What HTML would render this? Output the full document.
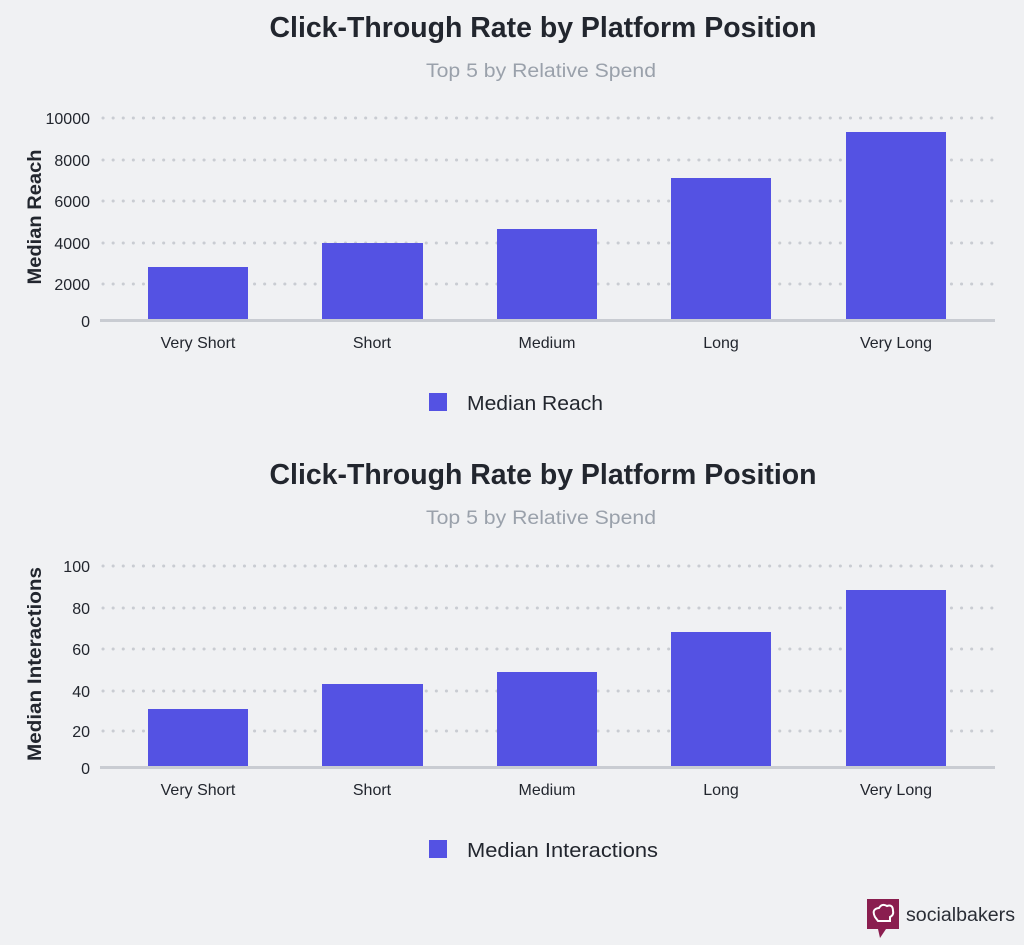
<!DOCTYPE html>
<html><head><meta charset="utf-8"><style>
html,body{margin:0;padding:0;background:#f0f1f3;}
svg{display:block;font-family:"Liberation Sans",sans-serif;}
</style></head><body>
<svg width="1024" height="945" viewBox="0 0 1024 945" xmlns="http://www.w3.org/2000/svg">
<rect width="1024" height="945" fill="#f0f1f3"/>
<g id="c1">
<text x="543" y="37" text-anchor="middle" font-size="29" font-weight="bold" fill="#22262e" textLength="547" lengthAdjust="spacingAndGlyphs">Click-Through Rate by Platform Position</text>
<text x="541" y="77" text-anchor="middle" font-size="19" fill="#9aa1ab" textLength="230" lengthAdjust="spacingAndGlyphs">Top 5 by Relative Spend</text>
<g stroke="#c9ccd2" stroke-width="3" stroke-dasharray="0.1 10" stroke-linecap="round">
<line x1="103" y1="118" x2="995" y2="118"/><line x1="103" y1="160" x2="995" y2="160"/><line x1="103" y1="201" x2="995" y2="201"/><line x1="103" y1="243" x2="995" y2="243"/><line x1="103" y1="284" x2="995" y2="284"/>
</g>
<g font-size="16" fill="#22262e" text-anchor="end">
<text x="90" y="124">10000</text><text x="90" y="166">8000</text><text x="90" y="207">6000</text><text x="90" y="249">4000</text><text x="90" y="290">2000</text><text x="90" y="327">0</text>
</g>
<text transform="translate(41 217) rotate(-90)" text-anchor="middle" font-size="19" font-weight="bold" fill="#22262e" textLength="135" lengthAdjust="spacingAndGlyphs">Median Reach</text>
<g fill="#5452e3">
<rect x="148" y="267" width="100" height="53"/><rect x="322" y="243" width="101" height="77"/><rect x="497" y="229" width="100" height="91"/><rect x="671" y="178" width="100" height="142"/><rect x="846" y="132" width="100" height="188"/>
</g>
<rect x="100" y="319" width="895" height="3" fill="#c9ccd2"/>
<g font-size="16" fill="#22262e" text-anchor="middle">
<text x="198" y="348">Very Short</text><text x="372" y="348">Short</text><text x="547" y="348">Medium</text><text x="721" y="348">Long</text><text x="896" y="348">Very Long</text>
</g>
<rect x="429" y="393" width="18" height="18" fill="#5452e3"/>
<text x="467" y="410" font-size="20" fill="#22262e" textLength="136" lengthAdjust="spacingAndGlyphs">Median Reach</text>
</g>
<g id="c2">
<text x="543" y="484" text-anchor="middle" font-size="29" font-weight="bold" fill="#22262e" textLength="547" lengthAdjust="spacingAndGlyphs">Click-Through Rate by Platform Position</text>
<text x="541" y="524" text-anchor="middle" font-size="19" fill="#9aa1ab" textLength="230" lengthAdjust="spacingAndGlyphs">Top 5 by Relative Spend</text>
<g stroke="#c9ccd2" stroke-width="3" stroke-dasharray="0.1 10" stroke-linecap="round">
<line x1="103" y1="566" x2="995" y2="566"/><line x1="103" y1="608" x2="995" y2="608"/><line x1="103" y1="649" x2="995" y2="649"/><line x1="103" y1="691" x2="995" y2="691"/><line x1="103" y1="731" x2="995" y2="731"/>
</g>
<g font-size="16" fill="#22262e" text-anchor="end">
<text x="90" y="572">100</text><text x="90" y="614">80</text><text x="90" y="655">60</text><text x="90" y="697">40</text><text x="90" y="737">20</text><text x="90" y="774">0</text>
</g>
<text transform="translate(41 664) rotate(-90)" text-anchor="middle" font-size="19" font-weight="bold" fill="#22262e" textLength="194" lengthAdjust="spacingAndGlyphs">Median Interactions</text>
<g fill="#5452e3">
<rect x="148" y="709" width="100" height="58"/><rect x="322" y="684" width="101" height="83"/><rect x="497" y="672" width="100" height="95"/><rect x="671" y="632" width="100" height="135"/><rect x="846" y="590" width="100" height="177"/>
</g>
<rect x="100" y="766" width="895" height="3" fill="#c9ccd2"/>
<g font-size="16" fill="#22262e" text-anchor="middle">
<text x="198" y="795">Very Short</text><text x="372" y="795">Short</text><text x="547" y="795">Medium</text><text x="721" y="795">Long</text><text x="896" y="795">Very Long</text>
</g>
<rect x="429" y="840" width="18" height="18" fill="#5452e3"/>
<text x="467" y="857" font-size="20" fill="#22262e" textLength="191" lengthAdjust="spacingAndGlyphs">Median Interactions</text>
</g>
<g>
<rect x="867" y="899" width="32" height="30" fill="#8a1e4f"/>
<polygon points="878,929 886,929 880,938" fill="#8a1e4f"/>
<path d="M875 917 q-4 -8 4 -9 q3 -5 8 -2 q6 -2 6 5 q1 4 -3 6 l0 4 l-12 0 z" fill="none" stroke="#fff" stroke-width="2"/>
<text x="906" y="921" font-size="19" fill="#2a2e36" textLength="109" lengthAdjust="spacingAndGlyphs">socialbakers</text>
</g>
</svg>
</body></html>
